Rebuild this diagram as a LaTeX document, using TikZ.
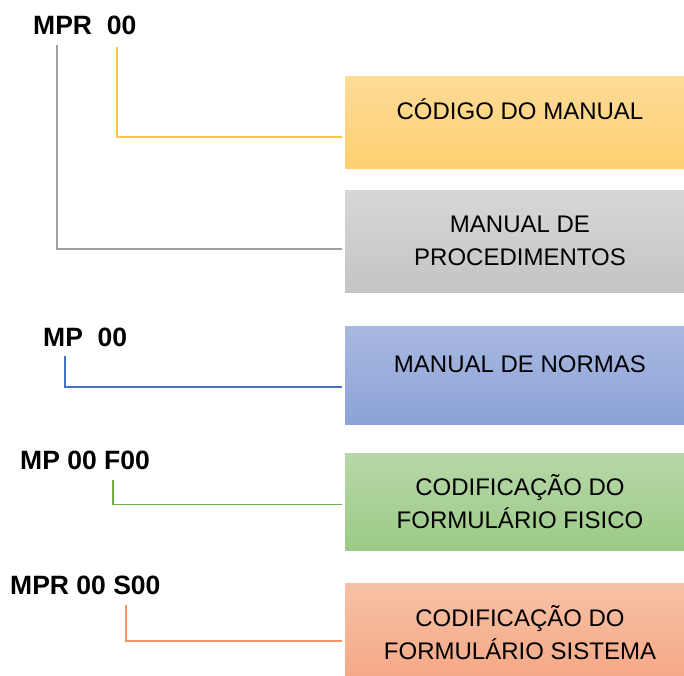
\documentclass[tikz,border=0pt]{standalone}
\usepackage{fontspec}
\setmainfont{Liberation Sans}
\usetikzlibrary{positioning}
\definecolor{GoldTop}{RGB}{253,219,152}
\definecolor{GoldBot}{RGB}{255,208,114}
\definecolor{GrayTop}{RGB}{215,215,215}
\definecolor{GrayBot}{RGB}{196,196,196}
\definecolor{BlueTop}{RGB}{169,184,224}
\definecolor{BlueBot}{RGB}{140,163,216}
\definecolor{GreenTop}{RGB}{183,215,168}
\definecolor{GreenBot}{RGB}{156,203,134}
\definecolor{SalmonTop}{RGB}{247,193,166}
\definecolor{SalmonBot}{RGB}{244,167,132}
\definecolor{lnGray}{RGB}{160,160,160}
\definecolor{lnGold}{RGB}{255,200,60}
\definecolor{lnBlue}{RGB}{68,114,196}
\definecolor{lnGreen}{RGB}{112,173,71}
\definecolor{lnOrange}{RGB}{240,150,100}
\tikzset{
  codebox/.style = {minimum width=350pt, inner sep=0pt, align=center,
                    font=\fontsize{24}{33}\selectfont},
  oneline/.style = {text height=17pt, text depth=22pt},
  code/.style    = {anchor=west, inner sep=0pt,
                    font=\fontsize{26.5}{30}\selectfont\bfseries},
  link/.style    = {line width=1.2pt, shorten >=3pt}
}

\begin{document}
\begin{tikzpicture}[x=1pt, y=-1pt]
\clip (0,0) rectangle (684,675);
% codes on the left
\node[code] (cMPR) at (33,25)  {MPR\ \ 00};
\node[code] (cMP)  at (43,337) {MP\ \ 00};
\node[code] (cMPF) at (20,460) {MP 00 F00};
\node[code] (cMPS) at (10,585) {MPR 00 S00};
% boxes on the right
\node[codebox,oneline,top color=GoldTop,bottom color=GoldBot,minimum height=92pt]
    (bCod)  at (520,122)   {CÓDIGO DO MANUAL};
\node[codebox,top color=GrayTop,bottom color=GrayBot,minimum height=102pt]
    (bProc) at (520,241)   {MANUAL DE\\PROCEDIMENTOS};
\node[codebox,oneline,top color=BlueTop,bottom color=BlueBot,minimum height=98pt]
    (bNorm) at (520,375)   {MANUAL DE NORMAS};
\node[codebox,top color=GreenTop,bottom color=GreenBot,minimum height=97pt]
    (bFis)  at (520,501.5) {CODIFICAÇÃO DO\\FORMULÁRIO FISICO};
\node[codebox,top color=SalmonTop,bottom color=SalmonBot,minimum height=100pt]
    (bSis)  at (520,633)   {CODIFICAÇÃO DO\\FORMULÁRIO SISTEMA};
% connectors
\draw[link,lnGray]   ([xshift=24pt,yshift=-10pt]cMPR.south west)  |- ([yshift=-8pt]bProc.west);
\draw[link,lnGold]   ([xshift=84pt,yshift=-12pt]cMPR.south west)  |- ([yshift=-15pt]bCod.west);
\draw[link,lnBlue]   ([xshift=22pt,yshift=-9pt]cMP.south west)    |- ([yshift=-12pt]bNorm.west);
\draw[link,lnGreen]  ([xshift=93pt,yshift=-10pt]cMPF.south west)  |- ([yshift=-3pt]bFis.west);
\draw[link,lnOrange] ([xshift=116pt,yshift=-10pt]cMPS.south west) |- ([yshift=-8pt]bSis.west);
\end{tikzpicture}
\end{document}
